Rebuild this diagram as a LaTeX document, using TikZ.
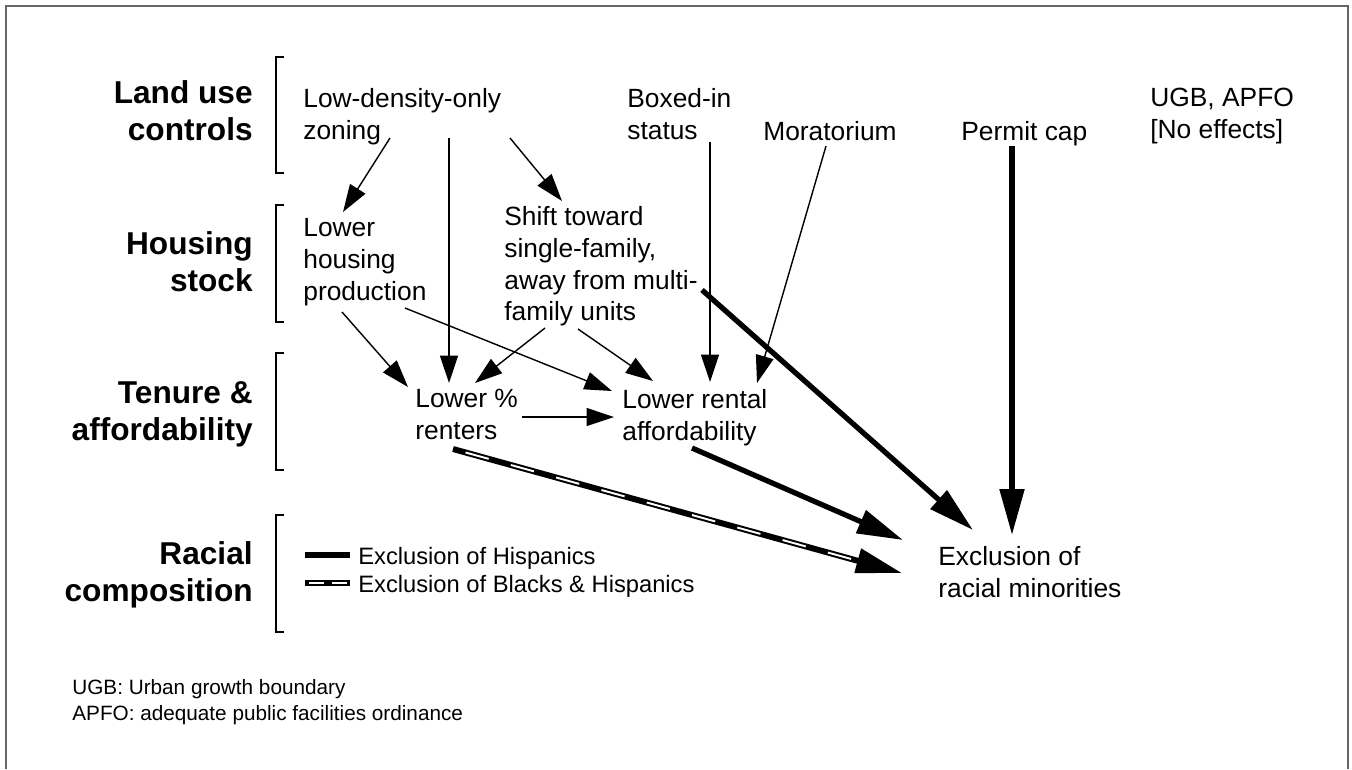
\documentclass[tikz,border=0pt]{standalone}
\usepackage{fontspec}
\setmainfont{Liberation Sans}
\usetikzlibrary{positioning, calc, arrows.meta}

\begin{document}
\begin{tikzpicture}[x=0.02cm, y=-0.02cm,
                textnode/.style={anchor=north west, inner sep=0pt, align=left, font=\fontsize{15}{18.1}\selectfont},
                levelnode/.style={anchor=north east, inner sep=0pt, align=right, font=\fontsize{18}{21}\selectfont\bfseries},
                legendnode/.style={anchor=base west, inner sep=0pt, font=\fontsize{13.5}{15.9}\selectfont},
                notenode/.style={anchor=north west, inner sep=0pt, align=left, font=\fontsize{11.8}{14.7}\selectfont},
                thinarrow/.style={line width=0.8pt, -{Triangle[length=0.55cm, width=0.36cm]}},
                thickarrow/.style={line width=3pt, -{Triangle[length=0.92cm, width=0.48cm]}},
                stripe/.style={draw=white, line width=1.1pt, dash pattern=on 0.48cm off 0.46cm, dash phase=0.68cm},
                stripearrow/.style={thickarrow, line width=3.4pt, postaction={stripe, -, shorten >=0.92cm}},
                ]
                \useasboundingbox (0,0) rectangle (1352,769);
                \draw[line width=1.2pt, black!60] (6,769) -- (6,6) -- (1348,6) -- (1348,769);

                %Brackets
                \foreach \ya/\yb in {57/173, 205/322, 353/470, 515/632}
                    \draw[line width=0.8pt] (284,\ya) -- (276,\ya) -- (276,\yb) -- (284,\yb);

                %Levels
                \node[levelnode] (landuse) at (253,80)  {Land use\\controls};
                \node[levelnode] (stock)   at (253,231) {Housing\\stock};
                \node[levelnode] (tenure)  at (253,381) {Tenure \&\\affordability};
                \node[levelnode] (racial)  at (253,541) {Racial\\composition};

                %Nodes
                \node[textnode] (zoning)  at (303,88)  {Low-density-only\\zoning};
                \node[textnode] (boxed)   at (627,88)  {Boxed-in\\status};
                \node[textnode] (morat)   at (763,121) {Moratorium};
                \node[textnode] (permit)  at (961,121) {Permit cap};
                \node[textnode] (ugb)     at (1150,88) {UGB, APFO\\{[No effects]}};
                \node[textnode] (prod)    at (303,218) {Lower\\housing\\production};
                \node[textnode] (shift)   at (504,206) {Shift toward\\single-family,\\away from multi-\\family units};
                \node[textnode] (renters) at (415,389) {Lower \%\\renters};
                \node[textnode] (afford)  at (622,389) {Lower rental\\affordability};
                \node[textnode] (excl)    at (938,546) {Exclusion of\\racial minorities};

                %Legend
                \node[legendnode] (hisp) at (358,564) {Exclusion of Hispanics};
                \node[legendnode] (both) at (358,592) {Exclusion of Blacks \& Hispanics};
                \draw[line width=3pt] ($(hisp.base west)+(-8,-9)$) -- ++(-45,0);
                \draw[line width=3.4pt, postaction={stripe, dash pattern=on 0.3cm off 0.16cm, dash phase=0cm, shorten <=0.06cm, shorten >=0.06cm}] ($(both.base west)+(-8,-9)$) -- ++(-45,0);

                \node[notenode] (note) at (72,679) {UGB: Urban growth boundary\\APFO: adequate public facilities ordinance};

                %Lines
                \draw[thinarrow] ($(zoning.north west)+(87,50)$)  -- ($(prod.north west)+(40,-6)$);
                \draw[thinarrow] ($(zoning.north west)+(146,50)$) -- ($(renters.north west)+(34,-6)$);
                \draw[thinarrow] ($(zoning.north west)+(207,50)$) -- ($(shift.north west)+(58,-5)$);
                \draw[thinarrow] ($(prod.north west)+(39,94)$)    -- ($(renters.north west)+(-7,-2)$);
                \draw[thinarrow] ($(prod.north west)+(102,90)$)   -- ($(afford.north west)+(-10,2)$);
                \draw[thinarrow] ($(shift.north west)+(41,122)$)  -- ($(renters.north west)+(60,-6)$);
                \draw[thinarrow] ($(shift.north west)+(74,123)$)  -- ($(afford.north west)+(31,-8)$);
                \draw[thinarrow] ($(boxed.north west)+(83,54)$)   -- ($(afford.north west)+(88,-7)$);
                \draw[thinarrow] ($(morat.north west)+(63,25)$)   -- ($(afford.north west)+(135,-6)$);
                \draw[thinarrow] ($(renters.north west)+(107,28)$) -- ($(afford.north west)+(-8,28)$);

                \draw[thickarrow] ($(shift.north west)+(198,84)$)  -- ($(excl.north west)+(35,-16)$);
                \draw[thickarrow] ($(afford.north west)+(70,59)$)  -- ($(excl.north west)+(-35,-6)$);
                \draw[thickarrow] ($(permit.north west)+(51,25)$)  -- ($(excl.north west)+(74,-11)$);
                \draw[stripearrow] ($(renters.north west)+(38,60)$) -- ($(excl.north west)+(-36,27)$);
\end{tikzpicture}
\end{document}
